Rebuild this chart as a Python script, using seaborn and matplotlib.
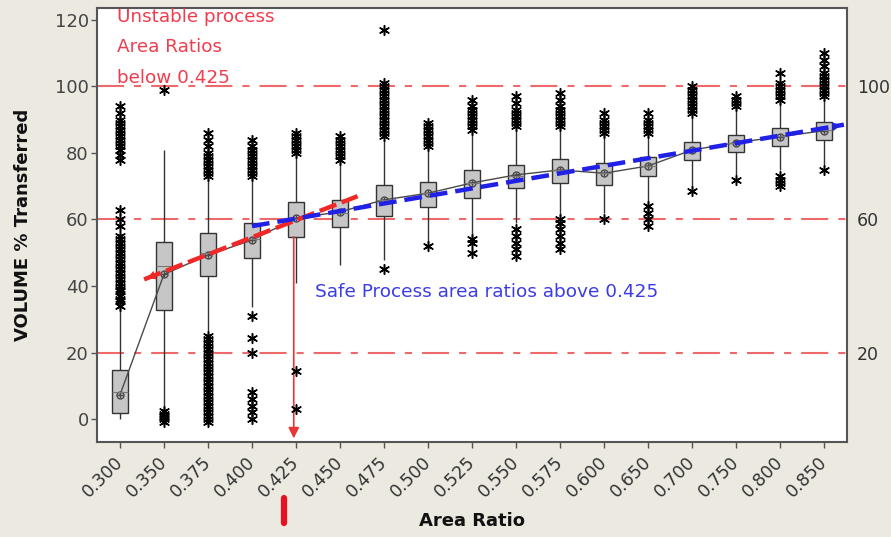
import seaborn as sns
import matplotlib.pyplot as plt
import matplotlib.lines as mlines
import pandas as pd
import numpy as np

# categories on the x axis
area_ratio = ['0.300', '0.350', '0.375', '0.400', '0.425', '0.450', '0.475', '0.500', '0.525',
              '0.550', '0.575', '0.600', '0.650', '0.700', '0.750', '0.800', '0.850']

# box summary per area ratio
whisker_low = [0.0, 2.0, 26.5, 33.7, 41.0, 46.3, 47.8, 53.3, 54.8, 58.9, 61.4, 61.9, 65.0, 69.9, 73.4, 74.9, 76.4]
q1 = [1.8, 32.8, 43.1, 48.4, 54.8, 57.8, 61.0, 63.8, 66.5, 69.5, 71.1, 70.4, 73.1, 77.9, 80.4, 82.1, 83.9]
median = [8.0, 46.0, 50.0, 54.0, 60.0, 62.0, 66.0, 68.0, 71.0, 73.0, 75.0, 74.0, 76.0, 81.0, 83.0, 85.0, 87.0]
q3 = [14.7, 53.2, 56.0, 58.9, 65.4, 65.9, 70.4, 71.4, 74.9, 76.4, 78.2, 76.9, 78.9, 83.4, 85.4, 87.4, 89.4]
whisker_high = [33.0, 81.0, 72.5, 72.8, 79.0, 76.9, 84.0, 81.5, 86.4, 86.9, 87.9, 85.4, 85.4, 90.9, 93.9, 95.4, 96.9]
means = [7.2, 43.5, 49.3, 53.8, 60.4, 62.3, 65.9, 67.9, 71.0, 73.4, 74.9, 73.9, 76.1, 80.9, 83.1, 84.9, 86.7]

outliers = [
    [34, 35.5, 36, 37, 38.5, 39, 40, 41, 42, 43, 44, 45, 46, 47, 48, 49, 50, 51, 52, 53, 54, 55,
     58, 60, 63, 78, 79.5, 81, 82, 83, 84, 85, 86, 87, 88, 89, 90, 92, 94],
    [-1, 0, 0.5, 1, 1.5, 2.5, 99],
    [-1, 0, 1, 2, 3, 4, 5, 6, 7, 8, 9, 10, 11, 12, 13, 14, 15, 16, 17, 18, 19, 20, 21, 22, 23, 24, 25,
     73, 74, 75, 76, 77, 78, 79, 80, 82, 84, 86],
    [0, 2, 4, 6, 8, 20, 24.5, 31, 73, 74, 75, 76, 77, 78, 79, 80, 81, 82, 84],
    [3, 14.5, 80, 81, 82, 83, 84, 85, 86],
    [78, 79, 80, 81, 82, 83, 84, 85],
    [45, 85, 86, 87, 88, 89, 90, 91, 92, 93, 94, 95, 96, 97, 98, 99, 100, 101, 117],
    [52, 82, 83, 84, 85, 86, 87, 88, 89],
    [50, 53, 54, 87, 88, 89, 90, 91, 92, 93, 94, 96],
    [49, 51, 53, 55, 57, 88, 89, 90, 91, 92, 93, 95, 97],
    [51, 53, 55, 57, 59, 60, 88, 89, 90, 91, 92, 93, 94, 96, 98],
    [60, 86, 87, 88, 89, 90, 92],
    [58, 60, 62, 64, 86, 87, 88, 89, 90, 92],
    [68.5, 92, 93, 94, 95, 96, 97, 98, 99, 100],
    [72, 94, 95, 96, 97],
    [70, 71, 72, 73, 96, 97, 98, 99, 100, 101, 104],
    [75, 97, 98, 99, 100, 101, 102, 103, 104, 106, 108, 110],
]

ref_lines = [20, 60, 100]
red_trend_x = [0.55, 5.4]
red_trend_y = [42, 67]
blue_trend_x = [3.0, 16.45]
blue_trend_y = [58, 88.5]
cutoff_pos = 3.95

sns.set_theme(style='white')
plt.rcParams['font.family'] = ['DejaVu Sans']

# five values per box -> quartiles and whisker ends come out exactly
box_df = pd.DataFrame({
    'Area Ratio': np.repeat(area_ratio, 5),
    'value': np.column_stack([whisker_low, q1, median, q3, whisker_high]).ravel(),
})
out_df = pd.DataFrame([(r, v) for r, vals in zip(area_ratio, outliers) for v in vals],
                      columns=['Area Ratio', 'value'])

fig = plt.figure(figsize=(8.91, 5.37), dpi=100, facecolor='#ECE9E1')
ax = fig.add_axes([0.1089, 0.1775, 0.8417, 0.8071])
ax.set_facecolor('white')

for y in ref_lines:
    ax.axhline(y, color='#EE6A6A', lw=1.5, dashes=(13, 4.8, 3.4, 4.8), zorder=0.5)

sns.boxplot(data=box_df, x='Area Ratio', y='value', order=area_ratio, ax=ax,
            whis=(0, 100), width=0.35, color='#C6C6C6', saturation=1,
            linecolor='#333333', linewidth=1, showfliers=False, showcaps=False,
            medianprops=dict(color='#7A7A7A', lw=0.8))

sns.stripplot(data=out_df, x='Area Ratio', y='value', order=area_ratio, ax=ax,
              jitter=False, marker=(6, 2, 0), color='black', size=7, linewidth=1.1, zorder=3)

sns.pointplot(x=area_ratio, y=means, order=area_ratio, ax=ax, color='#4A4A4A',
              markers='o', linestyles='-', linewidth=1, markersize=5,
              markerfacecolor='none', markeredgewidth=1, errorbar=None)
sns.pointplot(x=area_ratio, y=means, order=area_ratio, ax=ax, color='#4A4A4A',
              markers='+', linestyles='none', markersize=5, markeredgewidth=1, errorbar=None)

# hand drawn trend lines
red = '#F02828'
blue = '#2020E6'
ax.plot(red_trend_x, red_trend_y, color=red, lw=3.2, dashes=(4, 1.3), zorder=5)
ax.plot(blue_trend_x, blue_trend_y, color=blue, lw=3.2, dashes=(4, 1.8), zorder=5)
dx = (red_trend_x[1] - red_trend_x[0]) * 0.04
dy = (red_trend_y[1] - red_trend_y[0]) * 0.04
ax.annotate('', xy=(red_trend_x[0], red_trend_y[0]), xytext=(red_trend_x[0] + dx, red_trend_y[0] + dy),
            arrowprops=dict(arrowstyle='-|>', color=red, lw=0, mutation_scale=16), zorder=5)
dx = (blue_trend_x[1] - blue_trend_x[0]) * 0.02
dy = (blue_trend_y[1] - blue_trend_y[0]) * 0.02
ax.annotate('', xy=(blue_trend_x[1], blue_trend_y[1]), xytext=(blue_trend_x[1] - dx, blue_trend_y[1] - dy),
            arrowprops=dict(arrowstyle='-|>', color=blue, lw=0, mutation_scale=16), zorder=5)

ax.annotate('', xy=(cutoff_pos, -5.8), xytext=(cutoff_pos, q1[4]),
            arrowprops=dict(arrowstyle='-|>', color='#E83535', lw=1.2, mutation_scale=16,
                            shrinkA=0, shrinkB=0), zorder=2)

ax.text(-0.07, 123.6, 'Unstable process\nArea Ratios\nbelow 0.425', color='#F23C4E', fontsize=13.2,
        va='top', ha='left', linespacing=1.88)
ax.text(4.43, 38.2, 'Safe Process area ratios above 0.425', color='#3C3CE6', fontsize=13.3,
        va='center', ha='left')

ax.set_xlim(-0.52, 16.52)
ax.set_ylim(-6.8, 123.5)
ax.set_yticks([0, 20, 40, 60, 80, 100, 120])
ax.set_xticks(range(len(area_ratio)))
ax.set_xticklabels(area_ratio, rotation=45, ha='right', va='center', rotation_mode='anchor')
ax.tick_params(axis='y', left=True, length=4, width=1, color='#555555', labelsize=13,
               labelcolor='#444444', pad=2)
ax.tick_params(axis='x', bottom=True, length=4, width=1, color='#555555', labelsize=12.5,
               labelcolor='#333333', pad=9)
for s in ax.spines.values():
    s.set_color('#555555')
    s.set_linewidth(1.5)

ax.set_xlabel('Area Ratio', fontsize=13, fontweight='bold', color='#111111')
ax.set_ylabel('VOLUME % Transferred', fontsize=13, fontweight='bold', color='#111111')
ax.xaxis.set_label_coords(0.5, -0.162)
ax.yaxis.set_label_coords(-0.0867, 0.5)

ax2 = ax.twinx()
ax2.set_ylim(ax.get_ylim())
ax2.set_yticks(ref_lines)
ax2.tick_params(axis='y', right=True, length=0, labelsize=12.5, labelcolor='#333333', pad=7)
for s in ax2.spines.values():
    s.set_visible(False)

# red marker under the 0.425 label
fig.add_artist(mlines.Line2D([284 / 891, 284 / 891], [1 - 498 / 537, 1 - 523 / 537],
                             color='#E81020', lw=4.5, transform=fig.transFigure))

fig.savefig('out.png', dpi=100, facecolor=fig.get_facecolor())
